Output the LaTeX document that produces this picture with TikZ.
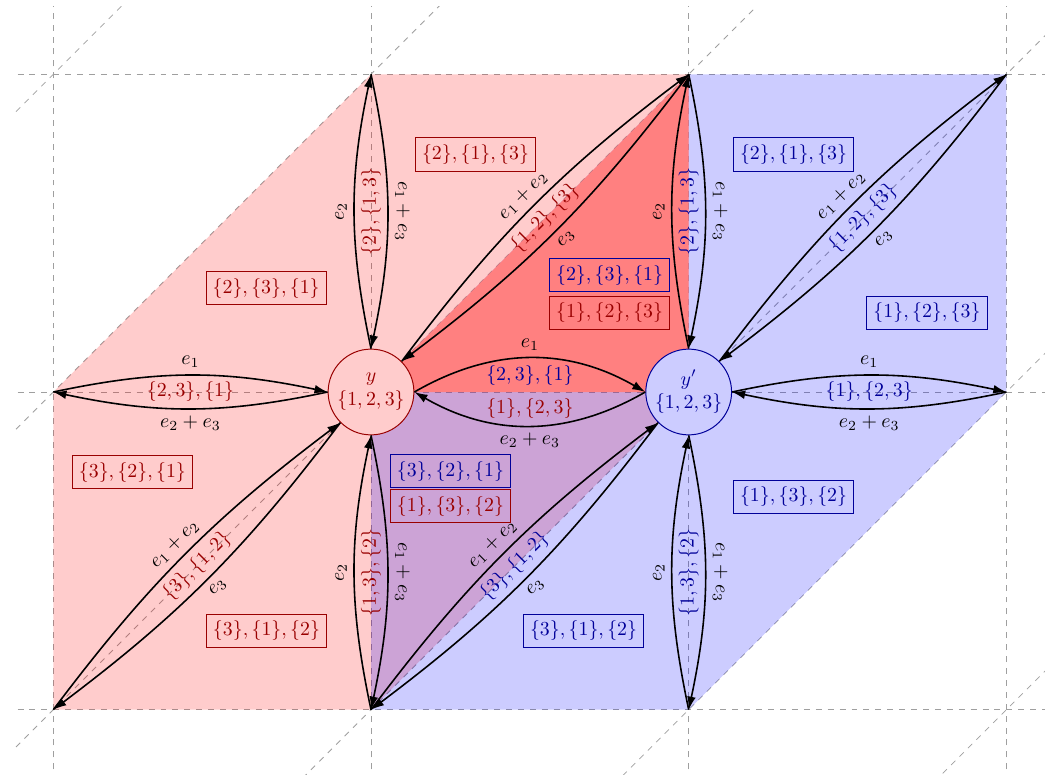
\documentclass[tikz,border=0pt]{standalone}
\usetikzlibrary{arrows.meta}
\colorlet{rtx}{red!60!black}
\colorlet{btx}{blue!60!black}
\begin{document}
\begin{tikzpicture}[x=160pt,y=160pt,
  gridline/.style={gray!75, dashed, thin},
  arr/.style={-{Latex[length=6.6pt,width=4.4pt]}, thick, black},
  lab/.style={inner sep=3.33pt, text=black},
  rl/.style={text=rtx, inner sep=3.33pt},
  bl/.style={text=btx, inner sep=3.33pt},
  rbox/.style={draw=rtx, text=rtx, line width=0.5pt, inner sep=3.33pt},
  bbox/.style={draw=btx, text=btx, line width=0.5pt, inner sep=3.33pt},
  vnode/.style={circle, align=center, inner sep=0pt, minimum size=43.2pt, line width=0.5pt}]
\useasboundingbox (-1.1678,-1.2181) rectangle (2.1215,1.2339);
% grid
\begin{scope}
\clip (-1.127,-1.205) rectangle (2.13,1.2128);
\foreach \x in {-1,0,1,2} \draw[gridline] (\x,-1.3) -- (\x,1.3);
\foreach \y in {-1,0,1} \draw[gridline] (-1.3,\y) -- (2.3,\y);
\foreach \c in {-3,...,2} \draw[gridline] (-3,-3+\c) -- (4,4+\c);
\end{scope}
% regions
\fill[red, opacity=0.2] (-1,0) -- (0,1) -- (1,1) -- (1,0) -- (0,-1) -- (-1,-1) -- cycle;
\fill[blue, opacity=0.2] (2,0) -- (2,1) -- (1,1) -- (0,0) -- (0,-1) -- (1,-1) -- cycle;
\fill[red!50] (0,0) -- (1,1) -- (1,0) -- cycle;
% grid points
\coordinate (gm0) at (-1,0);
\coordinate (g01) at (0,1);
\coordinate (g11) at (1,1);
\coordinate (gmm) at (-1,-1);
\coordinate (g0m) at (0,-1);
\coordinate (g20) at (2,0);
\coordinate (g21) at (2,1);
\coordinate (g1m) at (1,-1);
% region labels
\node[rbox] (r1) at (0.329,0.7475) {$\{2\},\{1\},\{3\}$};
\node[rbox] (r2) at (-0.330,0.327) {$\{2\},\{3\},\{1\}$};
\node[rbox] (r3) at (-0.751,-0.252) {$\{3\},\{2\},\{1\}$};
\node[rbox] (r4) at (-0.329,-0.751) {$\{3\},\{1\},\{2\}$};
\node[rbox] (r5) at (0.250,-0.360) {$\{1\},\{3\},\{2\}$};
\node[rbox] (r6) at (0.751,0.249) {$\{1\},\{2\},\{3\}$};
\node[bbox] (b1) at (1.330,0.7475) {$\{2\},\{1\},\{3\}$};
\node[bbox] (b2) at (1.750,0.249) {$\{1\},\{2\},\{3\}$};
\node[bbox] (b3) at (1.330,-0.3305) {$\{1\},\{3\},\{2\}$};
\node[bbox] (b4) at (0.669,-0.751) {$\{3\},\{1\},\{2\}$};
\node[bbox] (b5) at (0.250,-0.250) {$\{3\},\{2\},\{1\}$};
\node[bbox] (b6) at (0.751,0.368) {$\{2\},\{3\},\{1\}$};
% vertices
\node[vnode, fill=red!20, draw=rtx, text=rtx] (y) at (0,0) {$y$\\$\{1,2,3\}$};
\node[vnode, fill=blue!20, draw=btx, text=btx] (yp) at (1,0) {$y'$\\$\{1,2,3\}$};
% pair 1
\draw[arr] (gm0) to[bend left=12] node[lab, anchor=south] {$e_1$} (y.west);
\draw[arr] (y.west) to[bend left=12] node[lab, anchor=north] {$e_2+e_3$} (gm0);
\path (gm0) -- node[rl] {$\{2,3\},\{1\}$} (y.west);
% pair 2
\draw[arr] (y.north) to[bend left=12] node[lab, rotate=90, anchor=south] {$e_2$} (g01);
\draw[arr] (g01) to[bend left=12] node[lab, rotate=-90, anchor=south] {$e_1+e_3$} (y.north);
\path (y.north) -- node[rl, rotate=90] {$\{2\},\{1,3\}$} (g01);
% pair 3
\draw[arr] (y.north east) to[bend left=8] node[lab, rotate=45, anchor=south] {$e_1+e_2$} (g11);
\draw[arr] (g11) to[bend left=8] node[lab, rotate=45, anchor=north] {$e_3$} (y.north east);
\path (y.north east) -- node[rl, rotate=45] {$\{1,2\},\{3\}$} (g11);
% pair 4
\draw[arr] (gmm) to[bend left=8] node[lab, rotate=45, anchor=south] {$e_1+e_2$} (y.south west);
\draw[arr] (y.south west) to[bend left=8] node[lab, rotate=45, anchor=north] {$e_3$} (gmm);
\path (gmm) -- node[rl, rotate=45] {$\{3\},\{1,2\}$} (y.south west);
% pair 5
\draw[arr] (y.east) to[bend left=30] node[lab, anchor=south] {$e_1$} (yp.west);
\draw[arr] (yp.west) to[bend left=30] node[lab, anchor=north] {$e_2+e_3$} (y.east);
\path (y.east) -- node[bl, anchor=south] {$\{2,3\},\{1\}$} node[rl, anchor=north] {$\{1\},\{2,3\}$} (yp.west);
% pair 6
\draw[arr] (g0m) to[bend left=12] node[lab, rotate=90, anchor=south] {$e_2$} (y.south);
\draw[arr] (y.south) to[bend left=12] node[lab, rotate=-90, anchor=south] {$e_1+e_3$} (g0m);
\path (g0m) -- node[rl, rotate=90] {$\{1,3\},\{2\}$} (y.south);
% pair 7
\draw[arr] (yp.east) to[bend left=12] node[lab, anchor=south] {$e_1$} (g20);
\draw[arr] (g20) to[bend left=12] node[lab, anchor=north] {$e_2+e_3$} (yp.east);
\path (yp.east) -- node[bl] {$\{1\},\{2,3\}$} (g20);
% pair 8
\draw[arr] (yp.north) to[bend left=12] node[lab, rotate=90, anchor=south] {$e_2$} (g11);
\draw[arr] (g11) to[bend left=12] node[lab, rotate=-90, anchor=south] {$e_1+e_3$} (yp.north);
\path (yp.north) -- node[bl, rotate=90] {$\{2\},\{1,3\}$} (g11);
% pair 9
\draw[arr] (yp.north east) to[bend left=8] node[lab, rotate=45, anchor=south] {$e_1+e_2$} (g21);
\draw[arr] (g21) to[bend left=8] node[lab, rotate=45, anchor=north] {$e_3$} (yp.north east);
\path (yp.north east) -- node[bl, rotate=45] {$\{1,2\},\{3\}$} (g21);
% pair 10
\draw[arr] (g1m) to[bend left=12] node[lab, rotate=90, anchor=south] {$e_2$} (yp.south);
\draw[arr] (yp.south) to[bend left=12] node[lab, rotate=-90, anchor=south] {$e_1+e_3$} (g1m);
\path (g1m) -- node[bl, rotate=90] {$\{1,3\},\{2\}$} (yp.south);
% pair 11
\draw[arr] (g0m) to[bend left=8] node[lab, rotate=45, anchor=south] {$e_1+e_2$} (yp.south west);
\draw[arr] (yp.south west) to[bend left=8] node[lab, rotate=45, anchor=north] {$e_3$} (g0m);
\path (g0m) -- node[bl, rotate=45] {$\{3\},\{1,2\}$} (yp.south west);
\end{tikzpicture}
\end{document}
